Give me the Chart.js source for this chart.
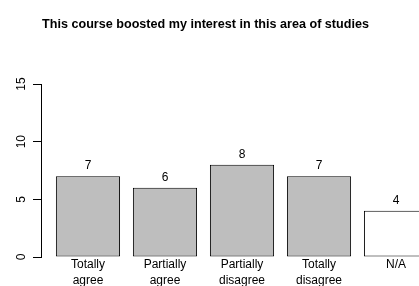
<!DOCTYPE html>
<html>
<head>
<meta charset="utf-8">
<script src="https://cdn.jsdelivr.net/npm/chart.js@4/dist/chart.umd.min.js"></script>
<style>
  html, body { margin: 0; padding: 0; background: #fff; overflow: hidden; }
  #wrap { width: 419px; height: 286px; }
</style>
</head>
<body>
<div id="wrap"><canvas id="chart" width="419" height="286"></canvas></div>
<script>
const title = "This course boosted my interest in this area of studies";
const categories = [
  ["Totally", "agree"],
  ["Partially", "agree"],
  ["Partially", "disagree"],
  ["Totally", "disagree"],
  ["N/A"],
];
const counts = [7, 6, 8, 7, 4];
const fills = ["#bebebe", "#bebebe", "#bebebe", "#bebebe", "#ffffff"];
const yTicks = [0, 5, 10, 15];

// barplot layout: width 1, space 0.2
const barPos = counts.map((_, i) => 0.7 + 1.2 * i);

const FONT = "'Liberation Sans', Arial, Helvetica, sans-serif";

const titlePlugin = {
  id: "rTitle",
  afterDraw(chart) {
    const ctx = chart.ctx;
    ctx.save();
    ctx.font = `bold 12.6px ${FONT}`;
    ctx.fillStyle = "#000";
    ctx.textAlign = "center";
    ctx.textBaseline = "alphabetic";
    ctx.fillText(title, 205.5, 28);
    ctx.restore();
  },
};

const valueLabels = {
  id: "valueLabels",
  afterDatasetsDraw(chart) {
    const ctx = chart.ctx;
    const meta = chart.getDatasetMeta(0);
    ctx.save();
    ctx.font = `12px ${FONT}`;
    ctx.fillStyle = "#000";
    ctx.textAlign = "center";
    ctx.textBaseline = "alphabetic";
    meta.data.forEach((el, i) => {
      ctx.fillText(String(counts[i]), el.x, el.y - 7);
    });
    ctx.restore();
  },
};

// R-style y labels, parallel to the axis
const yLabels = {
  id: "yLabels",
  afterDraw(chart) {
    const ctx = chart.ctx;
    const y = chart.scales.y;
    ctx.save();
    ctx.font = `12px ${FONT}`;
    ctx.fillStyle = "#000";
    ctx.textAlign = "center";
    ctx.textBaseline = "alphabetic";
    for (const v of yTicks) {
      ctx.save();
      ctx.translate(25, y.getPixelForValue(v));
      ctx.rotate(-Math.PI / 2);
      ctx.fillText(String(v), 0, 0);
      ctx.restore();
    }
    ctx.restore();
  },
};

new Chart(document.getElementById("chart"), {
  type: "bar",
  data: {
    datasets: [{
      data: counts.map((v, i) => ({ x: barPos[i], y: v })),
      backgroundColor: fills,
      borderColor: "#000",
      borderWidth: 1,
      borderSkipped: false,
      categoryPercentage: 1,
      barPercentage: 1 / 1.2,
    }],
  },
  options: {
    responsive: false,
    animation: false,
    devicePixelRatio: 1,
    layout: { padding: { top: 84, left: 0, right: 0, bottom: 0 } },
    plugins: {
      legend: { display: false },
      tooltip: { enabled: false },
      title: { display: false },
    },
    scales: {
      x: {
        type: "linear",
        offset: false,
        bounds: "data",
        min: -0.032,
        max: 5.858,
        afterBuildTicks: (s) => { s.ticks = barPos.map((v) => ({ value: v })); },
        afterFit: (s) => { s.height = 29; s.paddingLeft = 0; s.paddingRight = 0; },
        grid: { display: false, drawTicks: false, offset: false },
        border: { display: false },
        ticks: {
          autoSkip: false,
          maxRotation: 0,
          padding: 0,
          color: "#000",
          font: { family: FONT, size: 12, lineHeight: "16px" },
          callback: (v, i) => categories[i],
        },
      },
      y: {
        min: 0,
        max: 15,
        afterBuildTicks: (s) => { s.ticks = yTicks.map((v) => ({ value: v })); },
        afterFit: (s) => { s.width = 41; },
        grid: { drawOnChartArea: false, drawTicks: true, tickLength: 8, color: "#000" },
        border: { display: true, color: "#000", width: 1 },
        ticks: { display: false },
      },
    },
  },
  plugins: [valueLabels, yLabels, titlePlugin],
});
</script>
</body>
</html>
